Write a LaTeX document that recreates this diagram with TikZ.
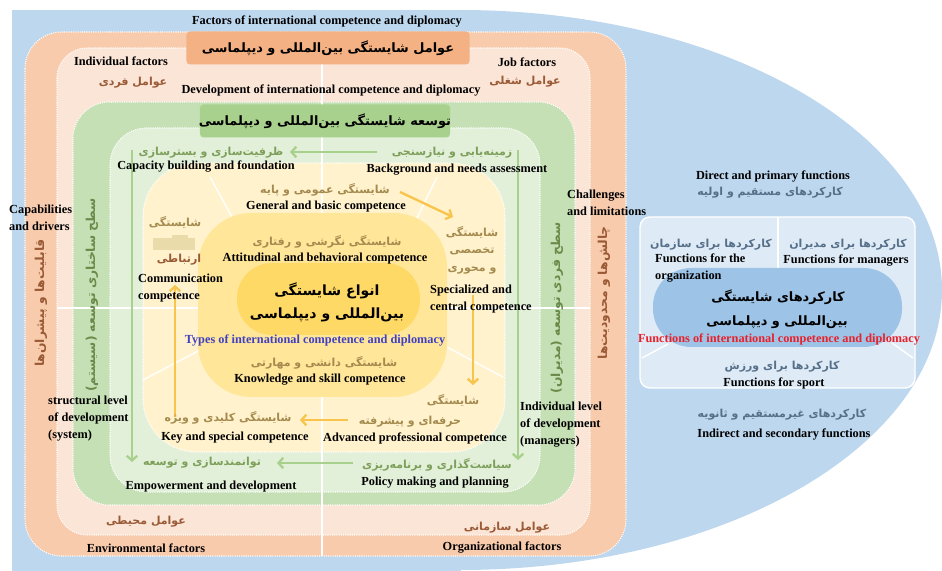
\documentclass[tikz,border=0pt]{standalone}
\usepackage{fontspec}
\setmainfont{Liberation Serif}
\newfontfamily\fa[Script=Arabic]{DejaVu Sans}
\TeXXeTstate=1
\usetikzlibrary{arrows.meta}

\definecolor{bluebg}{HTML}{BDD7EE}
\definecolor{orband}{HTML}{F8CBAD}
\definecolor{peach}{HTML}{FBE5D6}
\definecolor{grband}{HTML}{C5E0B4}
\definecolor{ltgreen}{HTML}{E2F0D9}
\definecolor{cream}{HTML}{FFF2CC}
\definecolor{midyel}{HTML}{FFE699}
\definecolor{coreyel}{HTML}{FFD966}
\definecolor{orhead}{HTML}{F4B183}
\definecolor{grhead}{HTML}{A9D18E}
\definecolor{fnbox}{HTML}{DEEBF7}
\definecolor{fncore}{HTML}{9DC3E6}
\definecolor{factxt}{HTML}{9A5A36}
\definecolor{grtxt}{HTML}{7D9F5A}
\definecolor{vgrtxt}{HTML}{6A8A4A}
\definecolor{tantxt}{HTML}{A48A4E}
\definecolor{fntxt}{HTML}{56708A}
\definecolor{typetxt}{HTML}{4040C0}
\definecolor{redtxt}{HTML}{E8202A}
\definecolor{arrgreen}{HTML}{A9D18E}
\definecolor{arryel}{HTML}{F9C44C}
\definecolor{blocktan}{HTML}{E9DCAA}

\begin{document}
\begin{tikzpicture}[x=0.03cm, y=-0.03cm,
  band/.style={draw=white, densely dotted, line width=0.9pt},
  divline/.style={white, line width=1.2pt},
  en/.style={font=\bfseries\fontsize{10.5}{14.5}\selectfont, inner sep=0pt, align=center},
  enl/.style={en, align=left, anchor=west},
  fa/.style={font=\fa\bfseries\fontsize{9.4}{11}\selectfont, inner sep=0pt},
  faside/.style={font=\fa\bfseries\fontsize{10.5}{12}\selectfont, inner sep=0pt, rotate=90},
  fahead/.style={font=\fa\bfseries\fontsize{11}{13}\selectfont, inner sep=0pt},
  facore/.style={font=\fa\bfseries\fontsize{12}{14}\selectfont, inner sep=0pt},
  garrow/.style={draw=arrgreen, line width=2pt, -{Straight Barb[length=4pt,width=9pt]}},
  yarrow/.style={draw=arryel, line width=2pt, -{Straight Barb[length=4pt,width=9pt]}}]
\useasboundingbox (0,0) rectangle (942,571);

% outer blue field
\fill[bluebg] (12,10) rectangle (461,571);
\begin{scope}
  \clip (460,0) rectangle (942,571);
  \fill[bluebg] (460,290) ellipse [x radius=482, y radius=280];
\end{scope}

% nested bands
\filldraw[band, fill=orband, rounded corners=1.1cm] (25,32) rectangle (626,556);
\filldraw[band, fill=peach, rounded corners=0.9cm] (57,48) rectangle (590,535);
\filldraw[band, fill=grband, rounded corners=1.1cm] (73,102) rectangle (575,505);
\filldraw[band, fill=ltgreen, rounded corners=1.1cm] (110,128) rectangle (540,492);
\filldraw[band, fill=cream, rounded corners=1.6cm] (143,163) rectangle (505,452);

% white dividers
\draw[divline] (322,48) -- (322,556);
\draw[divline] (57,308) -- (590,308);
\draw[divline] (210,177) -- (232,217);
\draw[divline] (437,177) -- (417,218);
\draw[divline] (143,380) -- (200,350);
\draw[divline] (443,345) -- (503,377);

\fill[midyel, rounded corners=1.6cm] (198,213) rectangle (447,397);
\fill[coreyel, rounded corners=1.05cm] (237,263) rectangle (420,335);

% header boxes
\node[fill=orhead, rounded corners=3pt, minimum width=8.49cm, minimum height=0.99cm] (orbox) at (328,48) {};
\node[fill=grhead, rounded corners=3pt, minimum width=7.5cm, minimum height=0.99cm] (grbox) at (325,121) {};

% functions panel
\filldraw[fill=fnbox, draw=white, line width=1.2pt, rounded corners=0.3cm] (640,217) rectangle (915,388);
\draw[divline] (778,217) -- (778,268);
\draw[divline] (642,358) -- (668,344);
\draw[divline] (913,358) -- (892,343);
\fill[fncore, rounded corners=1.15cm] (653,268) rectangle (902,347);

% tan block beside communication
\fill[blocktan] (153,238) rectangle (195,250);
\fill[blocktan] (172,235) rectangle (188,239);

% arrows
\coordinate (gtopS) at (377,152);
\coordinate (gtopE) at (290,152);
\coordinate (gleftS) at (132,150);
\coordinate (gleftE) at (132,462);
\coordinate (grightS) at (518,150);
\coordinate (grightE) at (518,460);
\coordinate (gbotS) at (353,463);
\coordinate (gbotE) at (277,463);
\draw[garrow] (gtopS) -- (gtopE);
\draw[garrow] (gleftS) -- (gleftE);
\draw[garrow] (grightS) -- (grightE);
\draw[garrow] (gbotS) -- (gbotE);

\coordinate (ydiagS) at (400,192);
\coordinate (ydiagE) at (453,217);
\coordinate (yrightS) at (473,295);
\coordinate (yrightE) at (473,385);
\coordinate (ybotS) at (348,420);
\coordinate (ybotE) at (300,420);
\coordinate (yleftS) at (175,417);
\coordinate (yleftE) at (175,285);
\draw[yarrow] (ydiagS) -- (ydiagE);
\draw[yarrow] (yrightS) -- (yrightE);
\draw[yarrow] (ybotS) -- (ybotE);
\draw[yarrow] (yleftS) -- (yleftE);

% top texts
\node[en] (factors) at (327,22) {Factors of international competence and diplomacy};
\node[fahead] (factorsfa) at (orbox) {\beginR عوامل شایستگی بین‌المللی و دیپلماسی\endR};
\node[en] (indiv) at (121,61) {Individual factors};
\node[fa, text=factxt] (indivfa) at (133,83) {\beginR عوامل فردی\endR};
\node[en] (job) at (527,62) {Job factors};
\node[fa, text=factxt] (jobfa) at (525,82) {\beginR عوامل شغلی\endR};
\node[en] (develop) at (331,91) {Development of international competence and diplomacy};
\node[fahead] (developfa) at (grbox) {\beginR توسعه شایستگی بین‌المللی و دیپلماسی\endR};

% development steps
\node[fa, text=grtxt] (capfa) at (211,153) {\beginR ظرفیت‌سازی و بسترسازی\endR};
\node[en] (cap) at (206,167) {Capacity building and foundation};
\node[fa, text=grtxt] (backfa) at (452,153) {\beginR زمینه‌یابی و نیازسنجی\endR};
\node[en] (back) at (457,170) {Background and needs assessment};
\node[fa, text=grtxt] (empfa) at (202,463) {\beginR توانمندسازی و توسعه\endR};
\node[en] (emp) at (211,487) {Empowerment and development};
\node[fa, text=grtxt] (polfa) at (437,465) {\beginR سیاست‌گذاری و برنامه‌ریزی\endR};
\node[en] (pol) at (435,483) {Policy making and planning};

% side labels
\node[enl] (capab) at (9,218) {Capabilities\\and drivers};
\node[faside, text=factxt] (capabfa) at (41,303) {\beginR قابلیت‌ها و پیشران‌ها\endR};
\node[faside, text=vgrtxt] (structfa) at (92,295) {\beginR سطح ساختاری توسعه (سیستم)\endR};
\node[enl] (struct) at (48,419) {structural level\\of development\\(system)};
\node[enl] (chall) at (567,203) {Challenges\\and limitations};
\node[faside, text=factxt] (challfa) at (604,293) {\beginR چالش‌ها و محدودیت‌ها\endR};
\node[faside, text=vgrtxt] (indlevfa) at (557,308) {\beginR سطح فردی توسعه (مدیران)\endR};
\node[enl] (indlev) at (520,425) {Individual level\\of development\\(managers)};

% competence types
\node[fa, text=tantxt] (genfa) at (325,190) {\beginR شایستگی عمومی و پایه\endR};
\node[en] (gen) at (326,207) {General and basic competence};
\node[fa, text=tantxt] (attfa) at (327,242) {\beginR شایستگی نگرشی و رفتاری\endR};
\node[en] (att) at (325,259) {Attitudinal and behavioral competence};
\node[facore] (typesfa) at (327,291) {\beginR انواع شایستگی\endR};
\node[facore] (typesfb) at (327,315) {\beginR بین‌المللی و دیپلماسی\endR};
\node[en, text=typetxt] (types) at (315,340) {Types of international competence and diplomacy};
\node[fa, text=tantxt] (knowfa) at (324,363) {\beginR شایستگی دانشی و مهارتی\endR};
\node[en] (know) at (320,380) {Knowledge and skill competence};
\node[fa, text=tantxt] (commfa) at (175,222) {\beginR شایستگی\endR};
\node[fa, text=factxt] (commfb) at (179,260) {\beginR ارتباطی\endR};
\node[enl] (comm) at (138,288) {Communication\\competence};
\node[fa, text=tantxt, align=center] (specfa) at (472,250) {\beginR شایستگی\endR\\[4pt]\beginR تخصصی\endR\\[4pt]\beginR و محوری\endR};
\node[enl] (spec) at (430,299) {Specialized and\\central competence};
\node[fa, text=tantxt] (advfa) at (453,400) {\beginR شایستگی\endR};
\node[fa, text=tantxt] (advfb) at (410,422) {\beginR حرفه‌ای و پیشرفته\endR};
\node[en] (adv) at (415,438) {Advanced professional competence};
\node[fa, text=tantxt] (keyfa) at (228,418) {\beginR شایستگی کلیدی و ویژه\endR};
\node[en] (key) at (235,438) {Key and special competence};

% bottom factors
\node[fa, text=factxt] (envfa) at (146,522) {\beginR عوامل محیطی\endR};
\node[en] (env) at (146,548) {Environmental factors};
\node[fa, text=factxt] (orgfa) at (507,528) {\beginR عوامل سازمانی\endR};
\node[en] (org) at (502,548) {Organizational factors};

% functions
\node[en] (direct) at (773,176) {Direct and primary functions};
\node[fa, text=fntxt] (directfa) at (770,193) {\beginR کارکردهای مستقیم و اولیه\endR};
\node[fa, text=fntxt] (fnorgfa) at (711,245) {\beginR کارکردها برای سازمان\endR};
\node[enl] (fnorg) at (655,268) {Functions for the\\organization};
\node[fa, text=fntxt] (fnmanfa) at (848,245) {\beginR کارکردها برای مدیران\endR};
\node[en] (fnman) at (846,261) {Functions for managers};
\node[fahead] (fncorefa) at (778,297) {\beginR کارکردهای شایستگی\endR};
\node[fahead] (fncorefb) at (777,322) {\beginR بین‌المللی و دیپلماسی\endR};
\node[en, text=redtxt] (fncore) at (779,339) {Functions of international competence and diplomacy};
\node[fa, text=fntxt] (fnsportfa) at (782,367) {\beginR کارکردها برای ورزش\endR};
\node[en] (fnsport) at (774,383) {Functions for sport};
\node[fa, text=fntxt] (indirfa) at (782,415) {\beginR کارکردهای غیرمستقیم و ثانویه\endR};
\node[en] (indir) at (784,434) {Indirect and secondary functions};
\end{tikzpicture}
\end{document}
